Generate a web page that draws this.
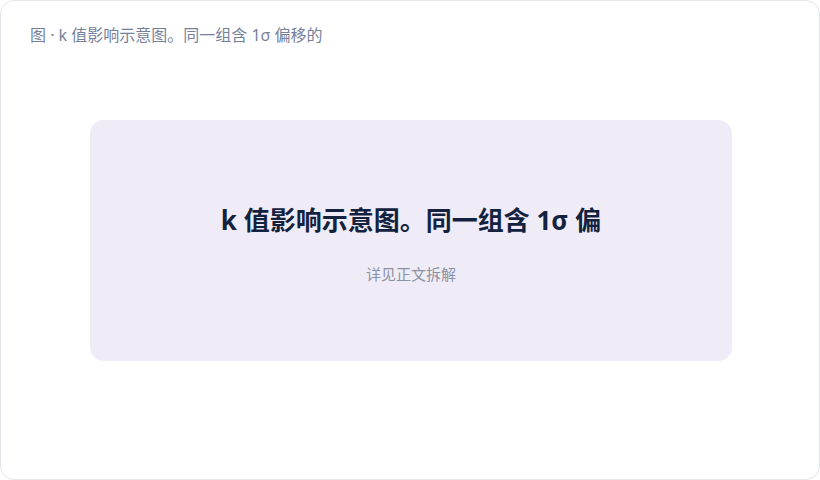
<!DOCTYPE html>
<html lang="zh">
<head>
<meta charset="UTF-8">
<title>k 值影响示意图</title>
<script src="https://cdn.jsdelivr.net/npm/chart.js"></script>
<style>
  * { margin: 0; padding: 0; box-sizing: border-box; }
  html, body { width: 820px; height: 480px; background: #fff; overflow: hidden;
    font-family: "Noto Sans", "Noto Sans CJK SC", sans-serif; }
  .card { position: absolute; left: 0; top: 0; width: 820px; height: 480px;
    border: 1px solid #e3e6eb; border-radius: 14px; background: #fff; }
  .caption { position: absolute; left: 29px; top: 23px; font-size: 16px; line-height: 22px; color: #74819a; }
  .box { position: absolute; left: 89px; top: 119px; width: 642px; height: 241px;
    background: #efecf8; border-radius: 14px; text-align: center; }
  .box h1 { position: absolute; left: 0; right: 0; top: 82px; font-size: 26px; line-height: 36px;
    font-weight: 700; color: #13233f; }
  .box p { position: absolute; left: 0; right: 0; top: 143px; font-size: 15px; line-height: 22px; color: #8b93a3; }
</style>
</head>
<body>
<div class="card">
  <div class="caption" id="caption"></div>
  <div class="box">
    <h1 id="title"></h1>
    <p id="sub"></p>
  </div>
</div>
<script>
  // placeholder figure: no series in the reference, only texts
  const captionText = "图 · k 值影响示意图。同一组含 1σ 偏移的";
  const titleText = "k 值影响示意图。同一组含 1σ 偏";
  const subText = "详见正文拆解";

  document.getElementById("caption").textContent = captionText;
  document.getElementById("title").textContent = titleText;
  document.getElementById("sub").textContent = subText;
</script>
</body>
</html>
